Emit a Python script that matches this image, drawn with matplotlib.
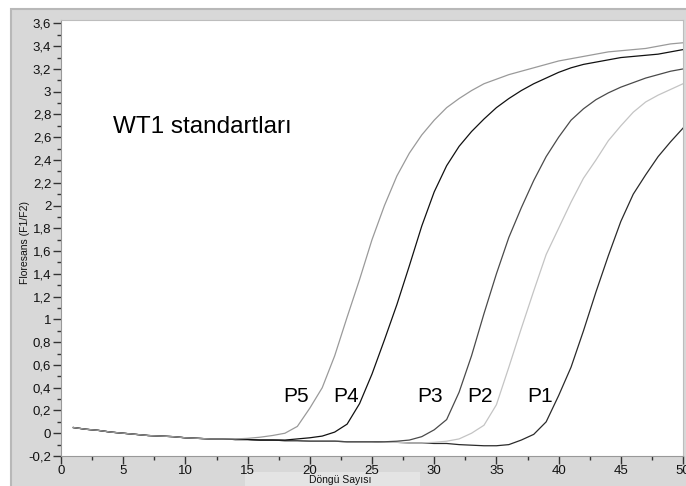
import matplotlib
matplotlib.use("Agg")
import matplotlib.pyplot as plt
from matplotlib.patches import Rectangle
from matplotlib.ticker import MultipleLocator, FuncFormatter

plt.rcParams['font.family'] = ['Liberation Sans', 'DejaVu Sans']

cycles = list(range(1, 51))

p5 = [0.05, 0.035, 0.025, 0.01, 0.0, -0.01, -0.02, -0.025, -0.03, -0.04,
      -0.045, -0.05, -0.05, -0.05, -0.045, -0.035, -0.02, 0.0, 0.06, 0.22,
      0.40, 0.68, 1.02, 1.35, 1.70, 2.00, 2.26, 2.46, 2.62, 2.75,
      2.86, 2.94, 3.01, 3.07, 3.11, 3.15, 3.18, 3.21, 3.24, 3.27,
      3.29, 3.31, 3.33, 3.35, 3.36, 3.37, 3.38, 3.40, 3.42, 3.43]

p4 = [0.05, 0.035, 0.025, 0.01, 0.0, -0.01, -0.02, -0.025, -0.03, -0.04,
      -0.045, -0.05, -0.05, -0.055, -0.055, -0.06, -0.06, -0.06, -0.05, -0.04,
      -0.025, 0.01, 0.08, 0.26, 0.52, 0.82, 1.13, 1.47, 1.82, 2.12,
      2.35, 2.52, 2.65, 2.76, 2.86, 2.94, 3.01, 3.07, 3.12, 3.17,
      3.21, 3.24, 3.26, 3.28, 3.30, 3.31, 3.32, 3.33, 3.35, 3.37]

p3 = [0.05, 0.035, 0.025, 0.01, 0.0, -0.01, -0.02, -0.025, -0.03, -0.04,
      -0.045, -0.05, -0.05, -0.055, -0.055, -0.06, -0.06, -0.065, -0.065, -0.07,
      -0.07, -0.07, -0.075, -0.075, -0.075, -0.075, -0.07, -0.06, -0.03, 0.03,
      0.12, 0.36, 0.68, 1.05, 1.40, 1.72, 1.98, 2.22, 2.43, 2.60,
      2.75, 2.85, 2.93, 2.99, 3.04, 3.08, 3.12, 3.15, 3.18, 3.20]

p2 = [0.05, 0.035, 0.025, 0.01, 0.0, -0.01, -0.02, -0.025, -0.03, -0.04,
      -0.045, -0.05, -0.05, -0.055, -0.055, -0.06, -0.06, -0.065, -0.065, -0.07,
      -0.07, -0.07, -0.075, -0.075, -0.075, -0.08, -0.08, -0.085, -0.085, -0.08,
      -0.07, -0.05, 0.0, 0.07, 0.25, 0.58, 0.92, 1.25, 1.57, 1.80,
      2.03, 2.24, 2.40, 2.57, 2.70, 2.82, 2.91, 2.97, 3.02, 3.07]

p1 = [0.05, 0.035, 0.025, 0.01, 0.0, -0.01, -0.02, -0.025, -0.03, -0.04,
      -0.045, -0.05, -0.05, -0.055, -0.055, -0.06, -0.06, -0.065, -0.065, -0.07,
      -0.07, -0.07, -0.075, -0.075, -0.075, -0.08, -0.08, -0.085, -0.085, -0.09,
      -0.09, -0.10, -0.105, -0.11, -0.11, -0.10, -0.06, -0.01, 0.10, 0.33,
      0.58, 0.90, 1.24, 1.56, 1.86, 2.10, 2.27, 2.43, 2.56, 2.68]

series = [("P1", p1, "#2a2a2a"), ("P2", p2, "#c4c4c4"), ("P3", p3, "#4a4a4a"),
          ("P4", p4, "#111111"), ("P5", p5, "#9a9a9a")]

label_pos = {"P5": (18.9, 0.32), "P4": (22.9, 0.32), "P3": (29.7, 0.32),
             "P2": (33.7, 0.32), "P1": (38.5, 0.32)}

title_text = "WT1 standartları"
xlabel = "Döngü Sayısı"
ylabel = "Floresans (F1/F2)"

W, H = 686, 486
fig = plt.figure(figsize=(W / 100, H / 100), dpi=100, facecolor="white")
bg = Rectangle((11 / W, -0.01), 1, (H - 9) / H + 0.01, transform=fig.transFigure,
               facecolor="#d8d8d8", edgecolor="#b8b8b8", lw=1.5, zorder=-10)
fig.patches.append(bg)
lab_box = Rectangle((245 / W, -0.01), 175 / W, 14 / H + 0.01, transform=fig.transFigure,
                    facecolor="#e4e4e4", edgecolor="none", zorder=-9)
fig.patches.append(lab_box)

ax = fig.add_axes([61 / W, 30 / H, 622 / W, 436 / H])
ax.set_zorder(1)
ax.set_facecolor("white")
for name, vals, col in series:
    ax.plot(cycles, vals, color=col, lw=0.9)

for name, (x, y) in label_pos.items():
    ax.text(x, y, name, fontsize=15, ha="center", va="center", color="black")

ax.text(0.083, 0.755, title_text, transform=ax.transAxes, fontsize=17.5,
        ha="left", va="center", color="black")

ax.set_xlim(0, 50)
ax.set_ylim(-0.2, 3.63)
ax.xaxis.set_major_locator(MultipleLocator(5))
ax.xaxis.set_minor_locator(MultipleLocator(2.5))
ax.yaxis.set_major_locator(MultipleLocator(0.2))
ax.yaxis.set_minor_locator(MultipleLocator(0.1))


def yfmt(v, pos):
    s = ("%.1f" % v)
    if s.endswith(".0"):
        s = s[:-2]
    if s == "-0":
        s = "0"
    return s.replace(".", ",")


ax.yaxis.set_major_formatter(FuncFormatter(yfmt))
ax.tick_params(axis="both", which="major", length=6, width=1, color="#333333",
               labelsize=9.5, labelcolor="#111111", direction="out")
ax.tick_params(axis="both", which="minor", length=3, width=1, color="#333333",
               direction="out")
ax.tick_params(axis="y", pad=1)
ax.tick_params(axis="x", pad=0.5)

for s in ["top", "right"]:
    ax.spines[s].set_color("#bdbdbd")
for s in ["left", "bottom"]:
    ax.spines[s].set_color("#999999")

fig.text(340 / W, 1 - 480 / H, xlabel, fontsize=7.5, ha="center", va="center",
         color="#111111")
fig.text(25 / W, 1 - 243 / H, ylabel, fontsize=7.5, rotation=90, ha="center",
         va="center", color="#111111")

fig.savefig("out.png", dpi=100, facecolor=fig.get_facecolor())
